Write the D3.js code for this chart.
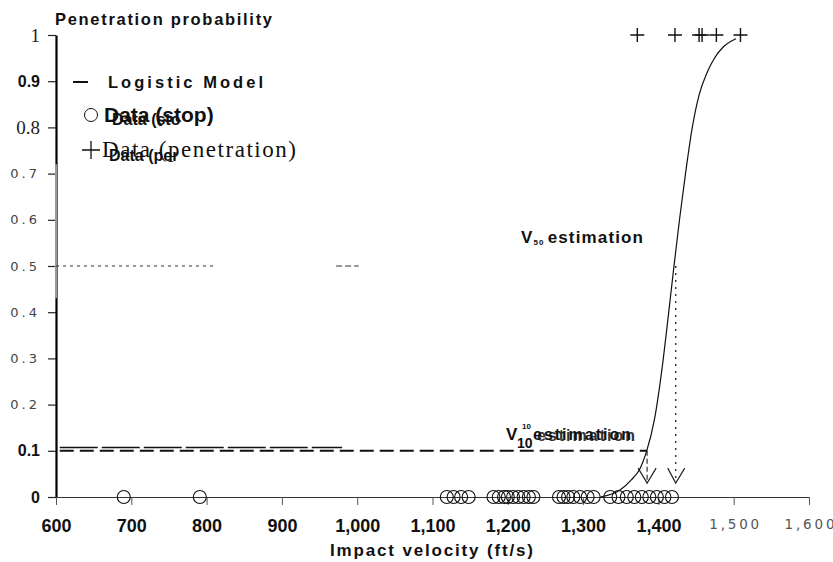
<!DOCTYPE html>
<html>
<head>
<meta charset="utf-8">
<script src="https://cdn.jsdelivr.net/npm/d3@7"></script>
<style>
body{margin:0;background:#fff}
svg{display:block}
.bold{font-family:"Liberation Sans",Arial,sans-serif;font-weight:bold;fill:#111}
</style>
</head>
<body>
<svg width="833" height="562"></svg>
<script>
// data
var xTicks = [600,700,800,900,1000,1100,1200,1300,1400,1500,1600]
var xTickLabels = ["600","700","800","900","1,000","1,100","1,200","1,300","1,400","1,500","1,600"]
var yTicks = [0,0.1,0.2,0.3,0.4,0.5,0.6,0.7,0.8,0.9,1]
var yTickLabels = ["0","0.1","0.2","0.3","0.4","0.5","0.6","0.7","0.8","0.9","1"]
// logistic model curve
var curveV = [1323,1349,1364,1376,1384,1395,1405,1413,1420,1428,1436,1445,1454,1465,1473,1486,1503]
var curveP = [0,0.015,0.037,0.063,0.097,0.17,0.28,0.39,0.49,0.6,0.7,0.8,0.87,0.92,0.946,0.974,0.992]
// stopped shots (p=0) and penetrations (p=1)
var stopV = [690,791,1119,1128,1138,1148,1181,1188,1195,1200,1207,1214,1221,1228,1234,1268,1274,1280,1287,1296,1306,1314,1336,1347,1358,1368,1378,1388,1398,1408,1418]
var penV = [1372,1422,1454,1458,1477,1509]
var v10 = 1385, v50 = 1423

var svg = d3.select("svg")
var x = d3.scaleLinear().domain([600,1600]).range([56,809])
var y = d3.scaleLinear().domain([0,1]).range([497,35])

// y axis
var yAxis = svg.append("g")
    .attr("transform","translate(56,0)")
    .call(d3.axisLeft(y).tickValues(yTicks).tickFormat(function(d,i){return yTickLabels[i]}).tickSize(8).tickSizeOuter(0))
yAxis.select(".domain").attr("stroke","#000").attr("stroke-width",2.2)
yAxis.selectAll(".tick line").attr("stroke","#222").attr("stroke-width",1.2)
yAxis.selectAll(".tick text").attr("x",-16).each(function(d,i){
    var t = d3.select(this)
    if(i==0||i==1||i==9){
        t.attr("font-family","Liberation Sans, Arial").attr("font-weight","bold").attr("font-size",16).attr("fill","#111")
    } else if(i==8||i==10){
        t.attr("font-family","Liberation Serif, Times New Roman").attr("font-size",19).attr("fill","#222")
    } else {
        t.attr("font-family","DejaVu Sans").attr("font-size",13).attr("letter-spacing",3).attr("fill","#444")
    }
})
// grey section of the axis in the scan
svg.append("line").attr("x1",56).attr("x2",56).attr("y1",y(0.72)).attr("y2",y(0.43))
    .attr("stroke","#999").attr("stroke-width",2)

// x axis
var xAxis = svg.append("g")
    .attr("transform","translate(0,497)")
    .call(d3.axisBottom(x).tickValues(xTicks).tickFormat(function(d,i){return xTickLabels[i]}).tickSize(8).tickSizeOuter(0))
xAxis.select(".domain").attr("stroke","#333").attr("stroke-width",1.2)
xAxis.selectAll(".tick line").attr("stroke","#555")
xAxis.selectAll(".tick text").attr("y",22).each(function(d,i){
    var t = d3.select(this)
    if(i<9){
        t.attr("font-family","Liberation Sans, Arial").attr("font-weight","bold").attr("font-size",18).attr("fill","#111")
    } else {
        t.attr("font-family","DejaVu Sans").attr("font-size",13.5).attr("textLength",50).attr("lengthAdjust","spacing").attr("fill","#555")
    }
})

// titles
svg.append("text").attr("class","bold").attr("x",55).attr("y",25).attr("font-size",16.5)
    .attr("textLength",217).attr("lengthAdjust","spacing").text("Penetration  probability")
svg.append("text").attr("class","bold").attr("x",330).attr("y",556).attr("font-size",17)
    .attr("textLength",203).attr("lengthAdjust","spacing").text("Impact  velocity  (ft/s)")

// V10 lines
svg.append("line").attr("x1",x(605)).attr("x2",x(980)).attr("y1",y(0.107)).attr("y2",y(0.107))
    .attr("stroke","#111").attr("stroke-width",1.5).attr("stroke-dasharray","38,4")
svg.append("line").attr("x1",x(605)).attr("x2",x(v10)).attr("y1",y(0.1)).attr("y2",y(0.1))
    .attr("stroke","#111").attr("stroke-width",2).attr("stroke-dasharray","14,6")
svg.append("line").attr("x1",x(v10)).attr("x2",x(v10)).attr("y1",y(0.1)).attr("y2",y(0.03))
    .attr("stroke","#333").attr("stroke-width",1.2).attr("stroke-dasharray","5,3")
svg.append("path").attr("fill","none").attr("stroke","#222").attr("stroke-width",1.2)
    .attr("d","M"+(x(v10)-9)+","+(y(0.03)-15)+"L"+x(v10)+","+y(0.03)+"L"+(x(v10)+9)+","+(y(0.03)-15))

// V50 lines
svg.append("line").attr("x1",x(600)).attr("x2",x(812)).attr("y1",y(0.5)).attr("y2",y(0.5))
    .attr("stroke","#333").attr("stroke-dasharray","3,4")
svg.append("line").attr("x1",x(972)).attr("x2",x(1002)).attr("y1",y(0.5)).attr("y2",y(0.5))
    .attr("stroke","#333").attr("stroke-dasharray","6,3")
svg.append("line").attr("x1",x(v50)).attr("x2",x(v50)).attr("y1",y(0.5)).attr("y2",y(0.03))
    .attr("stroke","#222").attr("stroke-width",1.3).attr("stroke-dasharray","2,5")
svg.append("path").attr("fill","none").attr("stroke","#222").attr("stroke-width",1.2)
    .attr("d","M"+(x(v50)-8)+","+(y(0.03)-15)+"L"+x(v50)+","+y(0.03)+"L"+(x(v50)+9)+","+(y(0.03)-15))

// stop circles
svg.append("g").selectAll("circle").data(stopV).enter().append("circle")
    .attr("cx",function(d){return x(d)}).attr("cy",y(0)).attr("r",6.5)
    .attr("fill","none").attr("stroke","#111").attr("stroke-width",1.1)

// logistic curve
var line = d3.line().curve(d3.curveMonotoneX)
    .x(function(d){return x(d.v)}).y(function(d){return y(d.p)})
svg.append("path").datum(curveV.map(function(v,i){return {v:v,p:curveP[i]}}))
    .attr("d",line).attr("fill","none").attr("stroke","#111").attr("stroke-width",1.2)

// penetration crosses
svg.append("g").selectAll("path").data(penV).enter().append("path")
    .attr("d",function(d){var cx=x(d),cy=y(1);return "M"+(cx-7)+","+cy+"H"+(cx+7)+"M"+cx+","+(cy-7)+"V"+(cy+7)})
    .attr("stroke","#111").attr("stroke-width",1.4)

// legend
svg.append("line").attr("x1",73).attr("x2",88).attr("y1",82).attr("y2",82).attr("stroke","#111").attr("stroke-width",2)
svg.append("text").attr("class","bold").attr("x",108).attr("y",88).attr("font-size",16.5)
    .attr("textLength",155).attr("lengthAdjust","spacing").text("Logistic  Model")
svg.append("circle").attr("cx",91).attr("cy",115).attr("r",6.5).attr("fill","none").attr("stroke","#111")
svg.append("text").attr("x",104).attr("y",122).attr("font-family","Liberation Sans, Arial").attr("font-size",21)
    .attr("font-weight","bold").attr("fill","#111").text("Data (stop)")
svg.append("text").attr("class","bold").attr("x",112).attr("y",125).attr("font-size",16).text("Data (sto")
svg.append("path").attr("d","M82,150H100M91,141V159").attr("stroke","#111").attr("stroke-width",1.3)
svg.append("text").attr("x",102).attr("y",157).attr("font-family","Liberation Serif, Times New Roman")
    .attr("font-size",23).attr("fill","#111").attr("textLength",194).attr("lengthAdjust","spacing").text("Data (penetration)")
svg.append("text").attr("class","bold").attr("x",109).attr("y",161).attr("font-size",16).text("Data (per")

// annotation labels
var v50lab = svg.append("text").attr("class","bold").attr("x",521).attr("y",243).attr("font-size",17)
    .attr("textLength",122).attr("lengthAdjust","spacing")
v50lab.append("tspan").text("V")
v50lab.append("tspan").attr("font-size",8).attr("dy",2).text("50")
v50lab.append("tspan").attr("dy",-2).attr("dx",3).text("estimation")

svg.append("text").attr("class","bold").attr("x",506).attr("y",440).attr("font-size",17).text("V")
svg.append("text").attr("class","bold").attr("x",522).attr("y",429).attr("font-size",8).text("10")
svg.append("text").attr("class","bold").attr("x",517).attr("y",448).attr("font-size",14).attr("font-weight","normal").text("10")
svg.append("text").attr("class","bold").attr("x",533).attr("y",440).attr("font-size",16)
    .attr("textLength",98).attr("lengthAdjust","spacing").text("estimation")
svg.append("text").attr("class","bold").attr("x",537).attr("y",441).attr("font-size",16).attr("opacity",0.85)
    .attr("textLength",98).attr("lengthAdjust","spacing").text("estimation")
</script>
</body>
</html>
